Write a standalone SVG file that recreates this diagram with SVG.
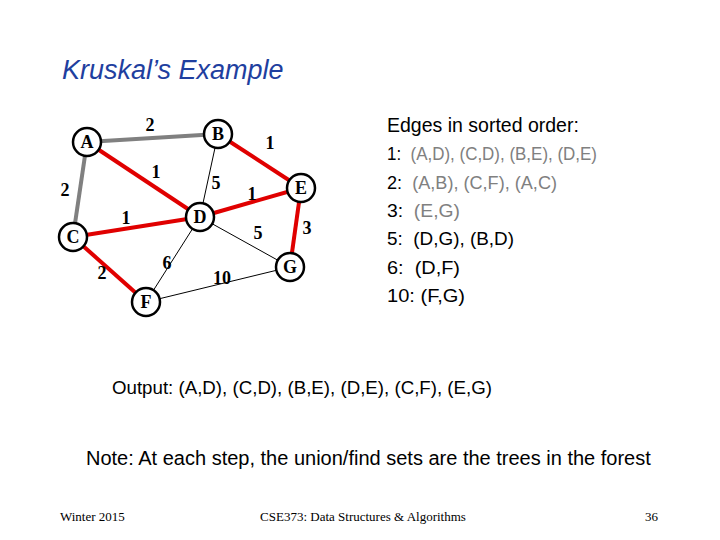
<svg xmlns="http://www.w3.org/2000/svg" width="720" height="540" viewBox="0 0 720 540">
<style>
.t{font-family:"Liberation Serif",serif;font-weight:bold;font-size:18px;fill:#000;text-anchor:middle}
.nl{font-family:"Liberation Serif",serif;font-weight:bold;font-size:18px;fill:#000;text-anchor:middle}
.s{font-family:"Liberation Sans",Arial,sans-serif;font-size:18.7px;fill:#000}
.gr{fill:#808080}
.n circle{fill:#fff;stroke:#000;stroke-width:2.5}
.r{stroke:#e00000;stroke-width:4}
.g{stroke:#808080;stroke-width:4}
.k{stroke:#000;stroke-width:1}
</style>
<rect width="720" height="540" fill="#fff"/>
<text x="62" y="79" font-family="Liberation Sans,Arial,sans-serif" font-style="italic" font-size="27" fill="#1f3f9f">Kruskal’s Example</text>
<g id="connectors">
<line class="g" x1="87" y1="142" x2="218" y2="134"/>
<line class="g" x1="87" y1="142" x2="73" y2="237"/>
<line class="r" x1="87" y1="142" x2="200" y2="217"/>
<line class="r" x1="218" y1="134" x2="301" y2="188"/>
<line class="k" x1="218" y1="134" x2="200" y2="217"/>
<line class="r" x1="200" y1="217" x2="301" y2="188"/>
<line class="r" x1="301" y1="188" x2="290" y2="267"/>
<line class="r" x1="73" y1="237" x2="200" y2="217"/>
<line class="k" x1="200" y1="217" x2="290" y2="267"/>
<line class="k" x1="200" y1="217" x2="146" y2="302"/>
<line class="r" x1="73" y1="237" x2="146" y2="302"/>
<line class="k" x1="146" y1="302" x2="290" y2="267"/>
</g>
<g class="t">
<text x="150" y="131">2</text><text x="270" y="149">1</text><text x="156" y="178">1</text>
<text x="216" y="189">5</text><text x="65" y="196">2</text><text x="252" y="200">1</text>
<text x="307" y="234">3</text><text x="126" y="224">1</text><text x="258" y="239">5</text>
<text x="167" y="269">6</text><text x="102" y="279">2</text><text x="222" y="284">10</text>
</g>
<g id="A" class="n"><circle cx="87" cy="142" r="14"/><text class="nl" x="87" y="148">A</text></g>
<g id="B" class="n"><circle cx="218" cy="134" r="14"/><text class="nl" x="218" y="140">B</text></g>
<g id="C" class="n"><circle cx="73" cy="237" r="14"/><text class="nl" x="73" y="243">C</text></g>
<g id="D" class="n"><circle cx="200" cy="217" r="14"/><text class="nl" x="200" y="223">D</text></g>
<g id="E" class="n"><circle cx="301" cy="188" r="14"/><text class="nl" x="301" y="194">E</text></g>
<g id="F" class="n"><circle cx="146" cy="302" r="14"/><text class="nl" x="146" y="308">F</text></g>
<g id="G" class="n"><circle cx="290" cy="267" r="14"/><text class="nl" x="290" y="273">G</text></g>
<g class="s">
<text x="387" y="132" font-size="19.5">Edges in sorted order:</text>
<text x="387" y="160" textLength="210" lengthAdjust="spacingAndGlyphs">1:&#160; <tspan class="gr">(A,D), (C,D), (B,E), (D,E)</tspan></text>
<text x="387" y="189" textLength="170" lengthAdjust="spacingAndGlyphs">2:&#160; <tspan class="gr">(A,B), (C,F), (A,C)</tspan></text>
<text x="387" y="217" textLength="73" lengthAdjust="spacingAndGlyphs">3:&#160; <tspan class="gr">(E,G)</tspan></text>
<text x="387" y="245" textLength="127" lengthAdjust="spacingAndGlyphs">5:&#160; (D,G), (B,D)</text>
<text x="387" y="274" textLength="73" lengthAdjust="spacingAndGlyphs">6:&#160; (D,F)</text>
<text x="387" y="302" textLength="78" lengthAdjust="spacingAndGlyphs">10: (F,G)</text>
<text x="112" y="394">Output: (A,D), (C,D), (B,E), (D,E), (C,F), (E,G)</text>
<text x="86" y="465" font-size="20">Note: At each step, the union/find sets are the trees in the forest</text>
</g>
<g font-family="Liberation Serif,serif" font-size="13">
<text x="60" y="521">Winter 2015</text>
<text x="363" y="521" text-anchor="middle">CSE373: Data Structures &amp; Algorithms</text>
<text x="658" y="521" text-anchor="end">36</text>
</g>
</svg>
